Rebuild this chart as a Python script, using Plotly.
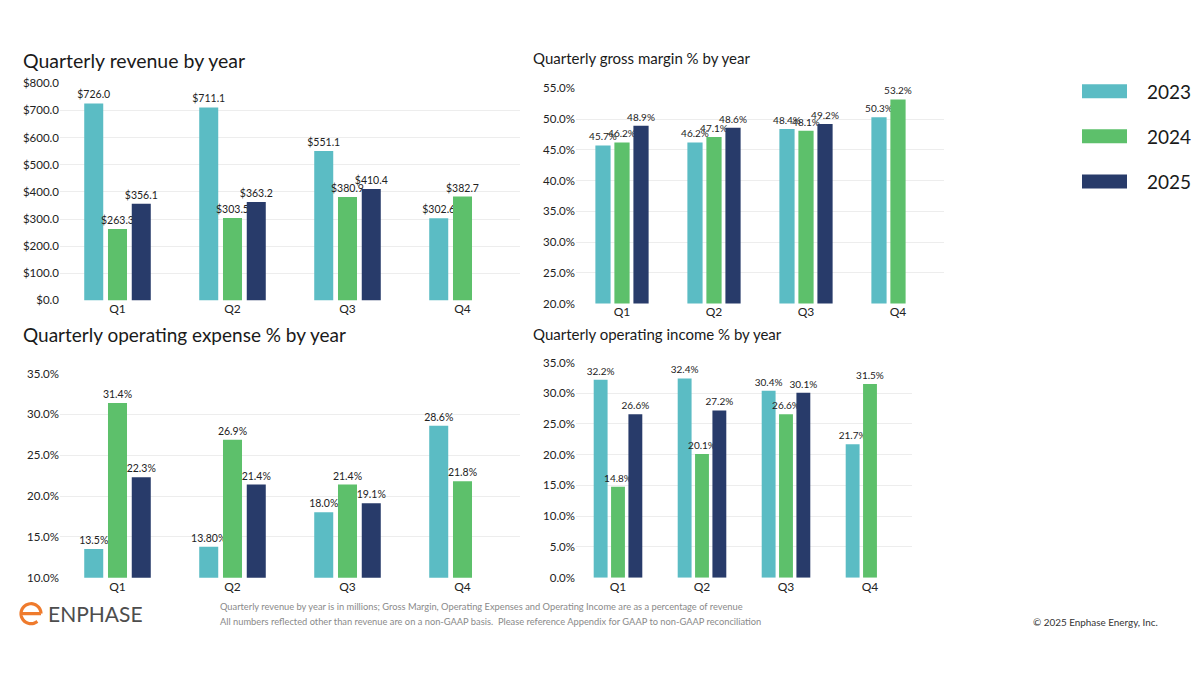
import numpy as np
import plotly.graph_objects as go

# data
quarters = ["Q1", "Q2", "Q3", "Q4"]
years = ["2023", "2024", "2025"]

revenue_2023 = [726.0, 711.1, 551.1, 302.6]
revenue_2024 = [263.3, 303.5, 380.9, 382.7]
revenue_2025 = [356.1, 363.2, 410.4, None]

gross_margin_2023 = [45.7, 46.2, 48.4, 50.3]
gross_margin_2024 = [46.2, 47.1, 48.1, 53.2]
gross_margin_2025 = [48.9, 48.6, 49.2, None]

opex_2023 = [13.5, 13.8, 18.0, 28.6]
opex_2024 = [31.4, 26.9, 21.4, 21.8]
opex_2025 = [22.3, 21.4, 19.1, None]
opex_2023_labels = ["13.5%", "13.80%", "18.0%", "28.6%"]

opinc_2023 = [32.2, 32.4, 30.4, 21.7]
opinc_2024 = [14.8, 20.1, 26.6, 31.5]
opinc_2025 = [26.6, 27.2, 30.1, None]

colors = ["#5BBCC4", "#5DC06B", "#283B6A"]

W, H = 1200, 675
FONT = "Lato"


def px(x):
    return x / W


def py(y):
    # small vertical correction measured from the rendered page
    y = 337.5 + (y - 337.5) / 0.98
    return 1 - y / H


def fmt(vals, pre="", suf=""):
    return ["" if v is None else f"{pre}{v:.1f}{suf}" for v in vals]


fig = go.Figure()

#each panel: title, series, axis settings, pixel box
panels = [
    dict(title="Quarterly revenue by year", tsize=19.5, tx=21, ty=60, lsize=10.5,
         series=[revenue_2023, revenue_2024, revenue_2025],
         labels=[fmt(revenue_2023, "$"), fmt(revenue_2024, "$"), fmt(revenue_2025, "$")],
         yrange=[0, 800], dtick=100, prefix="$", suffix="",
         box=(60, 520, 300, 83)),
    dict(title="Quarterly gross margin % by year", tsize=15, tx=531, ty=58, lsize=10,
         series=[gross_margin_2023, gross_margin_2024, gross_margin_2025],
         labels=[fmt(gross_margin_2023, suf="%"), fmt(gross_margin_2024, suf="%"),
                 fmt(gross_margin_2025, suf="%")],
         yrange=[20, 55], dtick=5, prefix="", suffix="%",
         box=(576, 944, 303, 88)),
    dict(title="Quarterly operating expense % by year", tsize=19, tx=21, ty=334, lsize=10.5,
         series=[opex_2023, opex_2024, opex_2025],
         labels=[opex_2023_labels, fmt(opex_2024, suf="%"), fmt(opex_2025, suf="%")],
         yrange=[10, 35], dtick=5, prefix="", suffix="%",
         box=(60, 520, 577, 373)),
    dict(title="Quarterly operating income % by year", tsize=15, tx=531, ty=334, lsize=10,
         series=[opinc_2023, opinc_2024, opinc_2025],
         labels=[fmt(opinc_2023, suf="%"), fmt(opinc_2024, suf="%"), fmt(opinc_2025, suf="%")],
         yrange=[0, 35], dtick=5, prefix="", suffix="%",
         box=(576, 912, 577, 362)),
]

layout_axes = {}
annotations = []
for i, p in enumerate(panels):
    n = "" if i == 0 else str(i + 1)
    for j, vals in enumerate(p["series"]):
        fig.add_trace(go.Bar(
            x=quarters, y=vals, name=years[j],
            marker=dict(color=colors[j], line=dict(width=0)),
            text=p["labels"][j], textposition="outside",
            textfont=dict(family=FONT, size=p["lsize"], color="#222222"),
            cliponaxis=False, showlegend=False,
            xaxis="x" + n, yaxis="y" + n,
        ))
    x0, x1, yb, yt = p["box"]
    layout_axes["xaxis" + n] = dict(
        domain=[px(x0), px(x1)], anchor="y" + n,
        showgrid=False, showline=False, ticks="",
        tickfont=dict(family=FONT, size=12, color="#222222"),
    )
    layout_axes["yaxis" + n] = dict(
        domain=[py(yb), py(yt)], anchor="x" + n,
        range=p["yrange"], dtick=p["dtick"],
        tickprefix=p["prefix"], ticksuffix=p["suffix"], tickformat=".1f",
        showgrid=True, gridcolor="#EDEDED", gridwidth=1, zeroline=False,
        tickfont=dict(family=FONT, size=11.5, color="#222222"),
    )
    annotations.append(dict(
        text=p["title"], x=px(p["tx"]), y=py(p["ty"]), xref="paper", yref="paper",
        xanchor="left", yanchor="middle", showarrow=False,
        font=dict(family=FONT, size=p["tsize"], color="#1A1A1A"),
    ))

#hand-made legend on the right
shapes = []
legend_y = [91, 136, 181]
for j, yr in enumerate(years):
    shapes.append(dict(type="rect", xref="paper", yref="paper",
                       x0=px(1082), x1=px(1127), y0=py(legend_y[j] + 7), y1=py(legend_y[j] - 7),
                       fillcolor=colors[j], line=dict(width=0)))
    annotations.append(dict(text=yr, x=px(1145), y=py(legend_y[j]), xref="paper", yref="paper",
                            xanchor="left", yanchor="middle", showarrow=False,
                            font=dict(family=FONT, size=19, color="#1A1A1A")))

#enphase logo mark: open circle with a bar through the middle
cx, cy, r = 31, 613, 10
ang = np.linspace(0, 2 * np.pi * 0.86, 40)
pts = [(cx + r * np.cos(a), cy - r * np.sin(a)) for a in ang]
path = "M %f,%f " % (px(cx - r), py(cy)) + "L %f,%f " % (px(cx + r), py(cy))
path += "M " + " L ".join("%f,%f" % (px(a), py(b)) for a, b in pts)
shapes.append(dict(type="path", xref="paper", yref="paper", path=path,
                   line=dict(color="#EF7B2D", width=3.2)))

annotations += [
    dict(text="ENPHASE", x=px(46), y=py(613), xref="paper", yref="paper",
         xanchor="left", yanchor="middle", showarrow=False,
         font=dict(family=FONT, size=21, color="#4D4D4D")),
    dict(text="Quarterly revenue by year is in millions; Gross Margin, Operating Expenses "
              "and Operating Income are as a percentage of revenue",
         x=px(218), y=py(606), xref="paper", yref="paper",
         xanchor="left", yanchor="middle", showarrow=False,
         font=dict(family=FONT, size=9.3, color="#8A8A8A")),
    dict(text="All numbers reflected other than revenue are on a non-GAAP basis.  "
              "Please reference Appendix for GAAP to non-GAAP reconciliation",
         x=px(218), y=py(621), xref="paper", yref="paper",
         xanchor="left", yanchor="middle", showarrow=False,
         font=dict(family=FONT, size=9.3, color="#8A8A8A")),
    dict(text="© 2025 Enphase Energy, Inc.", x=px(1160), y=py(621), xref="paper", yref="paper",
         xanchor="right", yanchor="middle", showarrow=False,
         font=dict(family=FONT, size=9.9, color="#333333")),
]

fig.update_layout(
    width=W, height=H,
    margin=dict(l=0, r=0, t=0, b=0),
    paper_bgcolor="white", plot_bgcolor="white",
    barmode="group", bargap=0.38, bargroupgap=0.2,
    showlegend=False,
    annotations=annotations, shapes=shapes,
    **layout_axes,
)
fig.update_traces(constraintext="none")

#drop the default page margin so the figure sits at the window corner
fig.write_html("out.html", config={"displayModeBar": False},
               post_script="document.body.style.margin='0';document.body.style.overflow='hidden';")
